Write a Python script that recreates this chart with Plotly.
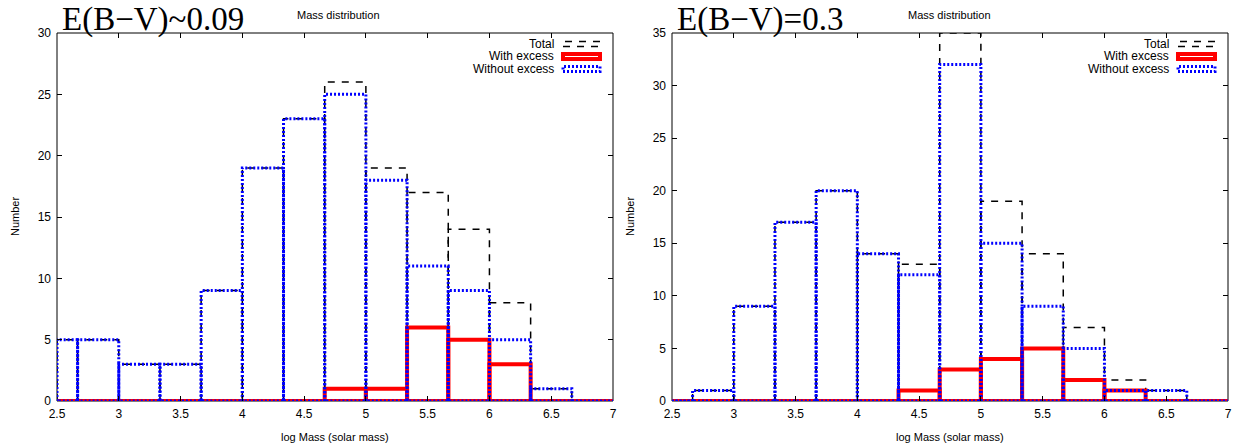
import plotly.graph_objects as go

# ---------------- data ----------------
BIN_CENTERS = [2.5, 2.8333, 3.1667, 3.5, 3.8333, 4.1667, 4.5,
               4.8333, 5.1667, 5.5, 5.8333, 6.1667, 6.5, 6.8333]
BIN_WIDTH = 1.0 / 3.0

total_left = [5, 5, 3, 3, 9, 19, 23, 26, 19, 17, 14, 8, 1, 0]
with_excess_left = [0, 0, 0, 0, 0, 0, 0, 1, 1, 6, 5, 3, 0, 0]
without_excess_left = [5, 5, 3, 3, 9, 19, 23, 25, 18, 11, 9, 5, 1, 0]

total_right = [0, 1, 9, 17, 20, 14, 13, 35, 19, 14, 7, 2, 1, 0]
with_excess_right = [0, 0, 0, 0, 0, 0, 1, 3, 4, 5, 2, 1, 0, 0]
without_excess_right = [0, 1, 9, 17, 20, 14, 12, 32, 15, 9, 5, 1, 1, 0]

X_RANGE = [2.5, 7]
Y_RANGE_LEFT = [0, 30]
Y_RANGE_RIGHT = [0, 35]
X_TICKS = [2.5, 3, 3.5, 4, 4.5, 5, 5.5, 6, 6.5, 7]
X_TICK_LABELS = ["2.5", "3", "3.5", "4", "4.5", "5", "5.5", "6", "6.5", "7"]
PANEL_TITLES = ["E(B\u2212V)~0.09", "E(B\u2212V)=0.3"]
SERIES_NAMES = ["Total", "With excess", "Without excess"]

W, H = 1239, 448
FONT = "Liberation Sans, Arial, sans-serif"


def box_path(centers, values, width, xmin):
    xs, ys = [], []
    for c, v in zip(centers, values):
        l = max(c - width / 2, xmin)
        r = c + width / 2
        xs += [l, l, r, r, l, None]
        ys += [0, v, v, 0, 0, None]
    return xs, ys


STYLES = [
    dict(color="black", width=1.5, dash="7px,7px"),
    dict(color="#ff0000", width=4, dash="solid"),
    dict(color="#0000ff", width=3, dash="2px,2px"),
]

fig = go.Figure()

panels = [
    ("x", "y", [total_left, with_excess_left, without_excess_left]),
    ("x2", "y2", [total_right, with_excess_right, without_excess_right]),
]
for xa, ya, series in panels:
    for name, vals, st in zip(SERIES_NAMES, series, STYLES):
        xs, ys = box_path(BIN_CENTERS, vals, BIN_WIDTH, X_RANGE[0])
        fig.add_trace(go.Scatter(x=xs, y=ys, mode="lines", name=name,
                                 line=st, xaxis=xa, yaxis=ya,
                                 showlegend=False, hoverinfo="skip"))

# pixel geometry
px = lambda v: v / W
py = lambda v: 1 - v / H
L1, R1 = 57, 613
L2, R2 = 672, 1228
TOP, BOT = 33, 401

axis_common = dict(showline=False, mirror="ticks", ticks="inside", ticklen=5,
                   tickcolor="black", tickwidth=1, showgrid=False,
                   zeroline=False, automargin=False,
                   tickfont=dict(family=FONT, size=12, color="black"))

fig.update_layout(
    width=W, height=H,
    margin=dict(l=0, r=0, t=0, b=0, pad=0),
    paper_bgcolor="white", plot_bgcolor="white",
    showlegend=False,
    xaxis=dict(domain=[px(L1), px(R1)], range=X_RANGE, tickvals=X_TICKS,
               ticktext=X_TICK_LABELS, anchor="y", ticklabelstandoff=4,
               **axis_common),
    yaxis=dict(domain=[py(BOT), py(TOP)], range=Y_RANGE_LEFT, dtick=5,
               anchor="x", ticklabelstandoff=5, **axis_common),
    xaxis2=dict(domain=[px(L2), px(R2)], range=X_RANGE, tickvals=X_TICKS,
                ticktext=X_TICK_LABELS, anchor="y2", ticklabelstandoff=4,
                **axis_common),
    yaxis2=dict(domain=[py(BOT), py(TOP)], range=Y_RANGE_RIGHT, dtick=5,
                anchor="x2", ticklabelstandoff=5, **axis_common),
)

annotations = []
shapes = []
for i, (left, right) in enumerate([(L1, R1), (L2, R2)]):
    off = left - L1
    xd = "x domain" if i == 0 else "x2 domain"
    yd = "y domain" if i == 0 else "y2 domain"
    # frame
    shapes.append(dict(type="rect", xref=xd, yref=yd, x0=0, x1=1, y0=0, y1=1,
                       line=dict(color="black", width=1), layer="below"))
    # big title
    annotations.append(dict(text=PANEL_TITLES[i], x=px(left + 3), y=py(19),
                            xref="paper", yref="paper", xanchor="left",
                            yanchor="middle", showarrow=False,
                            font=dict(family="Liberation Serif, Times New Roman, serif",
                                      size=33, color="black")))
    # small title
    annotations.append(dict(text="Mass distribution", x=px(338 + off - 4 * i),
                            y=py(15), xref="paper", yref="paper",
                            xanchor="center", yanchor="middle", showarrow=False,
                            font=dict(family=FONT, size=11, color="black")))
    # axis titles
    annotations.append(dict(text="log Mass (solar mass)",
                            x=px((left + right) / 2), y=py(437),
                            xref="paper", yref="paper", xanchor="center",
                            yanchor="middle", showarrow=False,
                            font=dict(family=FONT, size=11, color="black")))
    annotations.append(dict(text="Number", x=px(left - 42), y=py((TOP + BOT) / 2),
                            xref="paper", yref="paper", xanchor="center",
                            yanchor="middle", showarrow=False, textangle=-90,
                            font=dict(family=FONT, size=11, color="black")))
    # legend
    rows = [44, 56.5, 69]
    for name, st, yc in zip(SERIES_NAMES, STYLES, rows):
        annotations.append(dict(text=name, x=px(556 + off), y=py(yc),
                                xref="paper", yref="paper", xanchor="right",
                                yanchor="middle", showarrow=False,
                                font=dict(family=FONT, size=12, color="black")))
        shapes.append(dict(type="rect", xref="paper", yref="paper",
                           x0=px(563 + off), x1=px(600 + off),
                           y0=py(yc + 2.5), y1=py(yc - 2.5),
                           line=dict(color=st["color"], width=st["width"],
                                     dash=st["dash"])))

fig.update_layout(annotations=annotations, shapes=shapes)
fig.write_html("out.html",
               config={"displayModeBar": False, "staticPlot": True},
               post_script="document.body.style.margin='0';"
                           "document.body.style.overflow='hidden';")
